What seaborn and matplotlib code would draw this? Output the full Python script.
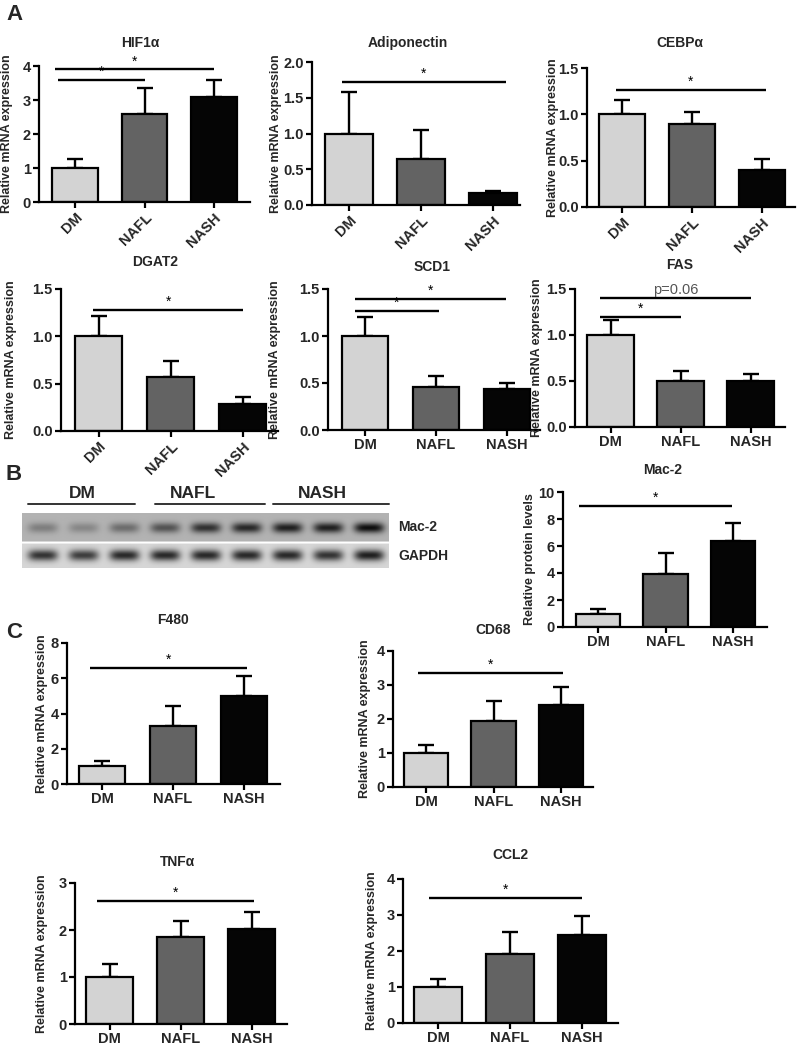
import numpy as np
import matplotlib.pyplot as plt
import seaborn as sns

W, H = 800, 1047

groups = ['DM', 'NAFL', 'NASH']
bar_colors = ['#d3d3d3', '#636363', '#050505']

# mean and upper error (SEM)
hif1a_mean = [1.0, 2.6, 3.08]
hif1a_sem = [0.27, 0.75, 0.52]
adipo_mean = [1.0, 0.64, 0.17]
adipo_sem = [0.58, 0.41, 0.03]
cebpa_mean = [1.0, 0.9, 0.4]
cebpa_sem = [0.15, 0.13, 0.12]
dgat2_mean = [1.0, 0.57, 0.28]
dgat2_sem = [0.22, 0.17, 0.08]
scd1_mean = [1.0, 0.46, 0.44]
scd1_sem = [0.2, 0.11, 0.06]
fas_mean = [1.0, 0.5, 0.5]
fas_sem = [0.16, 0.11, 0.08]
mac2_mean = [1.0, 3.9, 6.4]
mac2_sem = [0.3, 1.6, 1.3]
f480_mean = [1.0, 3.3, 5.0]
f480_sem = [0.3, 1.1, 1.1]
cd68_mean = [1.0, 1.93, 2.42]
cd68_sem = [0.24, 0.6, 0.52]
tnfa_mean = [1.0, 1.85, 2.02]
tnfa_sem = [0.28, 0.35, 0.36]
ccl2_mean = [1.0, 1.93, 2.45]
ccl2_sem = [0.22, 0.6, 0.52]

# significance bars: (start, end, height, label) in bar-index / data units
hif1a_sig = [(-0.25, 1.0, 3.6, '*'), (-0.29, 2.0, 3.9, '*')]
adipo_sig = [(-0.1, 2.18, 1.72, '*')]
cebpa_sig = [(-0.09, 2.06, 1.26, '*')]
dgat2_sig = [(-0.07, 2.01, 1.28, '*')]
scd1_sig = [(-0.14, 1.04, 1.27, '*'), (-0.14, 1.99, 1.39, '*')]
fas_sig = [(-0.15, 1.0, 1.2, '*'), (-0.15, 2.0, 1.4, 'p=0.06')]
mac2_sig = [(-0.28, 1.99, 9.0, '*')]
f480_sig = [(-0.17, 2.04, 6.6, '*')]
cd68_sig = [(-0.12, 2.03, 3.35, '*')]
tnfa_sig = [(-0.18, 2.03, 2.62, '*')]
ccl2_sig = [(-0.125, 2.0, 3.47, '*')]

# western blot lane intensities (9 lanes: 3 DM, 3 NAFL, 3 NASH)
mac2_bands = [0.30, 0.25, 0.40, 0.55, 0.75, 0.80, 0.85, 0.85, 0.95]
gapdh_bands = [0.80, 0.75, 0.85, 0.85, 0.85, 0.85, 0.85, 0.80, 0.90]

sns.set_style('white')
plt.rcParams['font.family'] = ['Liberation Sans', 'DejaVu Sans']
plt.rcParams['font.weight'] = 'bold'

fig = plt.figure(figsize=(W / 100, H / 100), dpi=100)


def ftext(x, y, s, **kw):
    fig.text(x / W, 1 - y / H, s, **kw)


def bar_panel(box, ymax, ystep, fmt, means, sems, sigs, title, title_xy,
              ylabel, ylabel_x, rotate=False):
    # box: y-axis x, x-axis end, DM centre, spacing, y of zero, y of ymax (pixels)
    x0, xend, c0, sp, y0, ytop = box
    ax = fig.add_axes([x0 / W, 1 - y0 / H, (xend - x0) / W, (y0 - ytop) / H])
    sns.barplot(x=groups, y=means, hue=groups, palette=bar_colors, legend=False,
                edgecolor='black', linewidth=1.6, width=0.66, ax=ax, zorder=2)
    ax.errorbar([0, 1, 2], means, yerr=[np.zeros(3), sems], fmt='none',
                ecolor='black', elinewidth=1.7, capsize=5.5, capthick=1.7, zorder=1)
    ax.set_xlim((x0 - c0) / sp, (xend - c0) / sp)
    ax.set_ylim(0, ymax)
    ticks = np.arange(0, ymax + ystep / 2, ystep)
    ax.set_yticks(ticks)
    ax.set_yticklabels([format(t, fmt) for t in ticks])
    for side in ['top', 'right']:
        ax.spines[side].set_visible(False)
    for side in ['left', 'bottom']:
        ax.spines[side].set_linewidth(1.6)
        ax.spines[side].set_color('black')
    ax.tick_params(axis='both', length=4, width=1.6, color='black',
                   labelsize=10.5, pad=2, direction='out', left=True, bottom=True)
    for lab in ax.get_xticklabels() + ax.get_yticklabels():
        lab.set_fontweight('bold')
    if rotate:
        ax.set_xticks([0, 1, 2])
        ax.set_xticklabels(groups, rotation=45, ha='right', va='top',
                           rotation_mode='anchor', fontweight='bold')
    ax.set_xlabel('')
    ax.set_ylabel('')
    for xa, xb, yv, lab in sigs:
        ax.plot([xa, xb], [yv, yv], color='black', lw=1.7, clip_on=False,
                solid_capstyle='butt')
        col = '#555555' if lab != '*' else 'black'
        fs = 10.5 if lab != '*' else 10
        ax.text((xa + xb) / 2, yv + ymax * 0.008, lab, ha='center', va='bottom',
                fontsize=fs, color=col, fontweight='normal', clip_on=False)
    ftext(title_xy[0], title_xy[1], title, ha='center', va='center',
          fontsize=10, fontweight='bold')
    ftext(ylabel_x, (y0 + ytop) / 2, ylabel, rotation=90, ha='center',
          va='center', fontsize=9, fontweight='bold')
    return ax


mrna = 'Relative mRNA expression'

# panel A
bar_panel((39, 250, 75, 69.5, 202, 66), 4, 1, '.0f', hif1a_mean, hif1a_sem,
          hif1a_sig, 'HIF1\u03b1', (140, 43), mrna, 7, rotate=True)
bar_panel((312, 520, 349, 72, 205, 62), 2, 0.5, '.1f', adipo_mean, adipo_sem,
          adipo_sig, 'Adiponectin', (408, 43), mrna, 276, rotate=True)
bar_panel((587, 795, 622, 70, 207, 68), 1.5, 0.5, '.1f', cebpa_mean, cebpa_sem,
          cebpa_sig, 'CEBP\u03b1', (680, 43), mrna, 553, rotate=True)
bar_panel((61, 278, 98.5, 72, 431, 289), 1.5, 0.5, '.1f', dgat2_mean, dgat2_sem,
          dgat2_sig, 'DGAT2', (155, 262), mrna, 11, rotate=True)
bar_panel((328, 540, 365, 71, 430, 289), 1.5, 0.5, '.1f', scd1_mean, scd1_sem,
          scd1_sig, 'SCD1', (432, 267), mrna, 275)
bar_panel((575, 785, 610.5, 70, 427, 289), 1.5, 0.5, '.1f', fas_mean, fas_sem,
          fas_sig, 'FAS', (680, 265), mrna, 537)

# panel B: blot
bx0, bx1, by0, by1 = 22, 389, 513, 568
bw, bh = bx1 - bx0, by1 - by0
img = np.ones((bh, bw))
xs = np.arange(bw)
lane_c = np.linspace(bw / 18, bw - bw / 18, 9)
split = 29
rows = np.arange(bh)
img[:split] = 0.70
img[split + 2:] = 0.84
for i in range(9):
    gx = np.exp(-((xs - lane_c[i]) / 15.0) ** 4)
    gy_top = np.exp(-((rows - 15) / 5.0) ** 2) * (rows < split)
    gy_bot = np.exp(-((rows - 42) / 5.5) ** 2) * (rows > split + 1)
    img -= mac2_bands[i] * 0.68 * np.outer(gy_top, gx)
    img -= gapdh_bands[i] * 0.8 * np.outer(gy_bot, gx)
img = np.clip(img, 0, 1)
bax = fig.add_axes([bx0 / W, 1 - by1 / H, bw / W, bh / H])
bax.imshow(img, cmap='gray', vmin=0, vmax=1, aspect='auto', interpolation='bilinear')
bax.axis('off')

for name, cx, xa, xb in [('DM', 82, 28, 135), ('NAFL', 193, 155, 265),
                         ('NASH', 322, 273, 389)]:
    ftext(cx, 494, name, ha='center', va='center', fontsize=12.5, fontweight='bold')
    fig.add_artist(plt.Line2D([xa / W, xb / W], [1 - 504 / H, 1 - 504 / H],
                              color='#333333', lw=1.4))
ftext(398, 527, 'Mac-2', ha='left', va='center', fontsize=10, fontweight='bold')
ftext(398, 556, 'GAPDH', ha='left', va='center', fontsize=10, fontweight='bold')

bar_panel((563, 767, 598, 67.5, 627, 492), 10, 2, '.0f', mac2_mean, mac2_sem,
          mac2_sig, 'Mac-2', (663, 470), 'Relative protein levels', 530)

# panel C
bar_panel((67, 280, 102, 71, 784, 643), 8, 2, '.0f', f480_mean, f480_sem,
          f480_sig, 'F480', (173, 620), mrna, 42)
bar_panel((393, 593, 426, 67.5, 787, 651), 4, 1, '.0f', cd68_mean, cd68_sem,
          cd68_sig, 'CD68', (493, 630), mrna, 365)
bar_panel((75, 287, 109.5, 71, 1024, 883), 3, 1, '.0f', tnfa_mean, tnfa_sem,
          tnfa_sig, 'TNF\u03b1', (177, 862), mrna, 42)
bar_panel((403, 618, 438, 72, 1023, 879), 4, 1, '.0f', ccl2_mean, ccl2_sem,
          ccl2_sig, 'CCL2', (510, 855), mrna, 372)

for letter, x, y in [('A', 14, 15), ('B', 14, 475), ('C', 14, 633)]:
    ftext(x, y, letter, ha='center', va='center', fontsize=16, fontweight='bold')

fig.savefig('out.png', dpi=100)
